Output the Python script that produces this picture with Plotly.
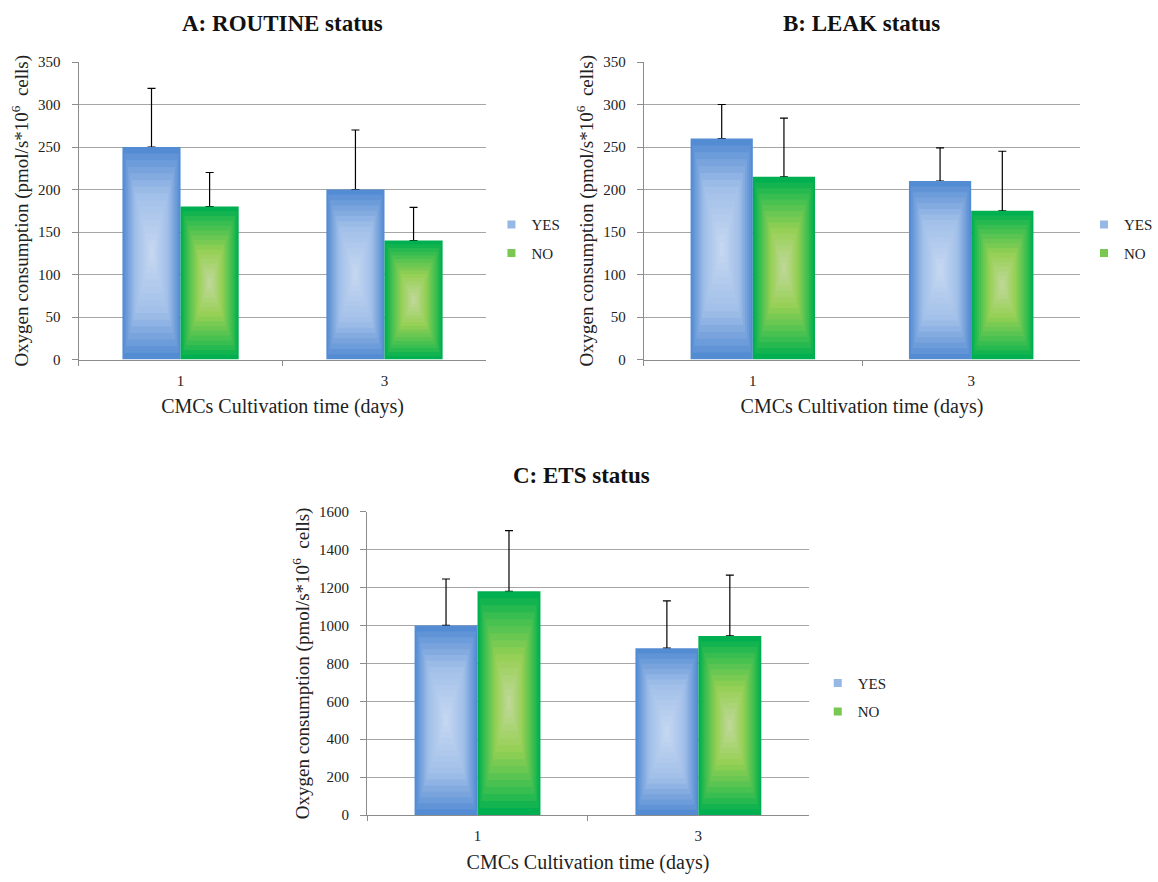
import plotly.graph_objects as go
import numpy as np

# ---------------- data ----------------
days = ["1", "3"]
series_names = ["YES", "NO"]

routine_yes = [250, 200]
routine_yes_err = [69, 70]
routine_no = [180, 140]
routine_no_err = [40, 39]

leak_yes = [260, 210]
leak_yes_err = [40, 39]
leak_no = [215, 175]
leak_no_err = [69, 70]

ets_yes = [1000, 880]
ets_yes_err = [245, 250]
ets_no = [1180, 945]
ets_no_err = [320, 320]

panel_titles = ["A: ROUTINE status", "B: LEAK status", "C: ETS status"]
x_title = "CMCs Cultivation time (days)"
y_title = "Oxygen consumption (pmol/s*10<sup>6</sup>&nbsp; cells)"

# ---------------- style ----------------
FONT = "Liberation Serif"
W = 0.285          # bar width in category units
N_LAYERS = 16      # nested layers to imitate the rectangular gradient

blue_stops = [(0.0, (200, 218, 242)), (0.6, (160, 190, 232)), (1.0, (84, 140, 212))]
green_stops = [(0.0, (196, 216, 160)), (0.45, (150, 208, 84)), (0.8, (60, 190, 80)), (1.0, (0, 176, 80))]
legend_colors = {"YES": "rgb(150,184,230)", "NO": "rgb(120,200,82)"}


def interp(stops, d):
    for (p0, c0), (p1, c1) in zip(stops[:-1], stops[1:]):
        if d <= p1:
            f = (d - p0) / (p1 - p0) if p1 > p0 else 0
            return "rgb(%d,%d,%d)" % tuple(round(a + (b - a) * f) for a, b in zip(c0, c1))
    return "rgb(%d,%d,%d)" % stops[-1][1]


W_PX = 1158
H_PX = 882


def px_x(p):
    return p / W_PX


def px_y(p):
    return 1 - p / H_PX


panels = [
    dict(xa="x", ya="y", yes=routine_yes, yes_err=routine_yes_err, no=routine_no, no_err=routine_no_err,
         yrange=[0, 350], dtick=50, legend="legend",
         xdom=[px_x(79), px_x(489)], ydom=[px_y(358), px_y(55)]),
    dict(xa="x2", ya="y2", yes=leak_yes, yes_err=leak_yes_err, no=leak_no, no_err=leak_no_err,
         yrange=[0, 350], dtick=50, legend="legend2",
         xdom=[px_x(647), px_x(1086)], ydom=[px_y(358), px_y(55)]),
    dict(xa="x3", ya="y3", yes=ets_yes, yes_err=ets_yes_err, no=ets_no, no_err=ets_no_err,
         yrange=[0, 1600], dtick=200, legend="legend3",
         xdom=[px_x(369), px_x(813)], ydom=[px_y(822), px_y(513)]),
]

fig = go.Figure()

for pi, p in enumerate(panels):
    for si, (name, vals, errs, stops, center) in enumerate([
        ("YES", p["yes"], p["yes_err"], blue_stops, -W / 2),
        ("NO", p["no"], p["no_err"], green_stops, W / 2),
    ]):
        vals = np.array(vals, dtype=float)
        # error bars (drawn first, so the bar covers the lower cap)
        fig.add_trace(go.Bar(
            x=days, y=vals, width=W, offset=center - W / 2,
            marker=dict(color="rgba(0,0,0,0)", line=dict(width=0)),
            error_y=dict(type="data", symmetric=False, array=errs, arrayminus=[0] * len(errs),
                         color="black", thickness=1.2, width=4),
            name=name, showlegend=False, legend=p["legend"],
            xaxis=p["xa"], yaxis=p["ya"],
        ))
        for k in range(N_LAYERS):
            t = k / N_LAYERS           # shrink fraction
            d = 1 - t                  # relative distance from centre
            w = W * (1 - t)
            color = interp(stops, d)
            fig.add_trace(go.Bar(
                x=days, y=vals * (1 - t), base=vals * t / 2,
                width=w, offset=center - w / 2,
                marker=dict(color=color, line=dict(width=0)),
                name=name, showlegend=False, legend=p["legend"],
                xaxis=p["xa"], yaxis=p["ya"], hoverinfo="skip",
            ))
        # legend entry with a small square symbol
        fig.add_trace(go.Scatter(
            x=[None], y=[None], mode="markers",
            marker=dict(symbol="square", size=8, color=legend_colors[name],
                        line=dict(width=0)),
            name=name, legendgroup=name + str(pi), showlegend=True, legend=p["legend"],
            xaxis=p["xa"], yaxis=p["ya"],
        ))

layout = dict(
    width=W_PX, height=H_PX,
    margin=dict(l=0, r=0, t=0, b=0),
    paper_bgcolor="white", plot_bgcolor="white",
    barmode="overlay",
    font=dict(family=FONT, size=15, color="#222222"),
    showlegend=True,
)

axis_line = "#8c8c8c"
grid = "#a6a6a6"
for pi, p in enumerate(panels):
    xs = "xaxis" if pi == 0 else "xaxis%d" % (pi + 1)
    ys = "yaxis" if pi == 0 else "yaxis%d" % (pi + 1)
    layout[xs] = dict(
        domain=p["xdom"], anchor=p["ya"], type="category", range=[-0.5, 1.5],
        showline=True, linecolor=axis_line, linewidth=1,
        ticks="outside", tickson="boundaries", ticklen=5, tickcolor=axis_line,
        showgrid=False, ticklabelstandoff=7,
        tickfont=dict(family=FONT, size=15, color="#222"),
        title=dict(text=x_title, font=dict(family=FONT, size=20, color="#222"), standoff=11),
    )
    layout[ys] = dict(
        domain=p["ydom"], anchor=p["xa"], range=p["yrange"], dtick=p["dtick"],
        showline=True, linecolor=axis_line, linewidth=1,
        ticks="outside", ticklen=6, tickcolor=axis_line,
        showgrid=True, gridcolor=grid, gridwidth=1, zeroline=False,
        ticklabelstandoff=8,
        tickfont=dict(family=FONT, size=15, color="#222"),
        title=dict(text=y_title, font=dict(family=FONT, size=19, color="#222"), standoff=4),
    )

legend_pos = [(494, 204), (1090, 204), (822, 671)]
for pi, (lx, ly) in enumerate(legend_pos):
    key = "legend" if pi == 0 else "legend%d" % (pi + 1)
    layout[key] = dict(
        x=px_x(lx), y=px_y(ly), xanchor="left", yanchor="top",
        font=dict(family=FONT, size=15, color="#222"),
        bgcolor="rgba(0,0,0,0)", traceorder="grouped", tracegroupgap=6,
        itemsizing="trace",
    )

title_pos = [(284, 16), (866, 16), (585, 476)]
annotations = []
for t, (tx, ty) in zip(panel_titles, title_pos):
    annotations.append(dict(
        text="<b>%s</b>" % t, x=px_x(tx), y=px_y(ty), xref="paper", yref="paper",
        xanchor="center", yanchor="middle", showarrow=False,
        font=dict(family=FONT, size=23, color="#111"),
    ))
layout["annotations"] = annotations

fig.update_layout(**layout)
fig.write_html("out.html")
